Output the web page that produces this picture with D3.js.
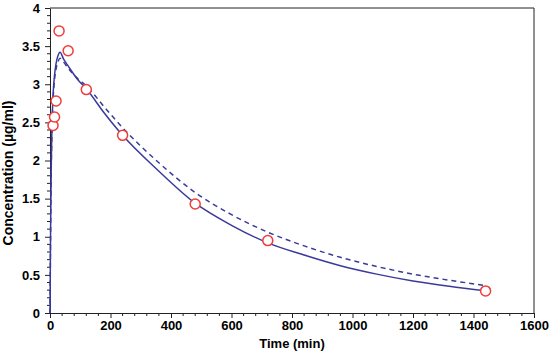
<!DOCTYPE html>
<html>
<head>
<meta charset="utf-8">
<script src="https://cdn.jsdelivr.net/npm/d3@7"></script>
<style>
  body { margin: 0; background: #fff; }
  svg { display: block; }
  text { font-family: "Liberation Sans", Arial, sans-serif; font-weight: bold; fill: #000; }
</style>
</head>
<body>
<svg id="chart" width="550" height="352"></svg>
<script>
// observed samples
const obsTime = [10, 15, 20, 30, 60, 120, 240, 480, 720, 1440]
const obsConc = [2.46, 2.57, 2.78, 3.70, 3.44, 2.93, 2.33, 1.43, 0.95, 0.29]

// fitted curves
const fitTime = [0, 2, 4, 6, 8, 11, 15, 20, 26, 33, 45, 60, 90, 120, 180, 240, 360, 480, 600, 720, 840, 960, 1080, 1200, 1320, 1440]
const solidConc = [0, 1.1, 1.9, 2.35, 2.65, 2.92, 3.12, 3.27, 3.37, 3.42, 3.33, 3.24, 3.07, 2.94, 2.62, 2.33, 1.86, 1.44, 1.15, 0.92, 0.76, 0.62, 0.51, 0.42, 0.35, 0.29]
const dashedConc = [0, 1.05, 1.85, 2.3, 2.6, 2.86, 3.06, 3.2, 3.29, 3.34, 3.29, 3.21, 3.08, 2.98, 2.70, 2.43, 1.97, 1.58, 1.29, 1.06, 0.88, 0.73, 0.61, 0.51, 0.43, 0.36]

const xTicks = [0, 200, 400, 600, 800, 1000, 1200, 1400, 1600]
const yTicks = [0, 0.5, 1, 1.5, 2, 2.5, 3, 3.5, 4]

const margin = { left: 50, right: 534, top: 8, bottom: 313 }
const lineColor = '#3a3a9c'
const dotColor = '#f03c3c'

const svg = d3.select('#chart')

const x = d3.scaleLinear().domain([0, 1600]).range([margin.left, margin.right])
const y = d3.scaleLinear().domain([0, 4]).range([margin.bottom, margin.top])

// frame (top + right)
svg.append('path')
  .attr('d', `M${margin.left},${margin.top}H${margin.right}V${margin.bottom}`)
  .attr('fill', 'none')
  .attr('stroke', '#222')
  .attr('stroke-width', 1)

// minor ticks
const xMinor = d3.range(0, 1601, 40).filter(d => d % 200 !== 0)
const yMinor = d3.range(0, 41, 1).map(d => d / 10).filter(d => Math.round(d * 10) % 5 !== 0)

const xAxis = svg.append('g')
  .attr('transform', `translate(0,${margin.bottom})`)
  .call(d3.axisBottom(x).tickValues(xTicks).tickFormat(d3.format('d')).tickSize(5).tickSizeOuter(0))
xAxis.selectAll('.minor')
  .data(xMinor)
  .enter().append('line')
  .attr('class', 'minor')
  .attr('x1', d => x(d)).attr('x2', d => x(d))
  .attr('y1', 0).attr('y2', 3)
  .attr('stroke', '#222')

const yAxis = svg.append('g')
  .attr('transform', `translate(${margin.left},0)`)
  .call(d3.axisLeft(y).tickValues(yTicks).tickFormat(d => String(d)).tickSize(5).tickSizeOuter(0))
yAxis.selectAll('.minor')
  .data(yMinor)
  .enter().append('line')
  .attr('class', 'minor')
  .attr('y1', d => y(d)).attr('y2', d => y(d))
  .attr('x1', 0).attr('x2', -3)
  .attr('stroke', '#222')

svg.selectAll('.domain').attr('stroke', '#222')
svg.selectAll('.tick line').attr('stroke', '#222')
svg.selectAll('.tick text')
  .style('font-family', '"Liberation Sans", Arial, sans-serif')
  .style('font-weight', 'bold')
  .style('font-size', '13px')
  .attr('fill', '#000')
xAxis.selectAll('.tick text').attr('y', 8)
yAxis.selectAll('.tick text').attr('x', -10)

// axis titles
svg.append('text')
  .attr('x', (margin.left + margin.right) / 2)
  .attr('y', 348)
  .attr('text-anchor', 'middle')
  .style('font-size', '13px')
  .text('Time (min)')

svg.append('text')
  .attr('transform', 'translate(13,173) rotate(-90)')
  .attr('text-anchor', 'middle')
  .style('font-size', '14px')
  .text('Concentration (µg/ml)')

// curves
const line = d3.line()
  .curve(d3.curveMonotoneX)
  .x(d => x(d[0]))
  .y(d => y(d[1]))

svg.append('path')
  .datum(fitTime.map((t, i) => [t, dashedConc[i]]))
  .attr('d', line)
  .attr('fill', 'none')
  .attr('stroke', lineColor)
  .attr('stroke-width', 1.5)
  .attr('stroke-dasharray', '5,4')

svg.append('path')
  .datum(fitTime.map((t, i) => [t, solidConc[i]]))
  .attr('d', line)
  .attr('fill', 'none')
  .attr('stroke', lineColor)
  .attr('stroke-width', 1.5)

// observed points
svg.selectAll('circle.obs')
  .data(obsTime.map((t, i) => [t, obsConc[i]]))
  .enter().append('circle')
  .attr('class', 'obs')
  .attr('cx', d => x(d[0]))
  .attr('cy', d => y(d[1]))
  .attr('r', 5)
  .attr('fill', '#fff')
  .attr('stroke', dotColor)
  .attr('stroke-width', 1.5)
</script>
</body>
</html>
